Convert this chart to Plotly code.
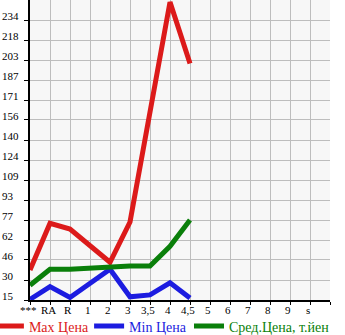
import plotly.graph_objects as go

categories = ["***", "RA", "R", "1", "2", "3", "3,5", "4", "4,5", "5", "6", "7", "8", "9", "s"]
max_price = [38.5, 75, 70.5, 57, 44.5, 76, 160, 248, 200]
min_price = [15.5, 25.5, 17, 28, 39, 17.5, 19, 28.5, 16.5]
avg_price = [26.5, 39, 39, 40, 41, 41.5, 41.5, 57, 77.5]
y_ticks = [15, 30.64, 46.29, 61.93, 77.57, 93.21, 108.86, 124.5, 140.14, 155.79, 171.43, 187.07, 202.71, 218.36, 234]
y_labels = ["15", "30", "46", "62", "77", "93", "109", "124", "140", "156", "171", "187", "203", "218", "234"]

names = ["Max Цена", "Min Цена", "Сред.Цена, т.йен"]
colors = ["#dc1a1a", "#1c1ce0", "#0a7f0a"]
series = [max_price, min_price, avg_price]
legend_ids = ["legend", "legend2", "legend3"]
legend_x = [-0.137, 0.197, 0.53]

fig = go.Figure()
for name, col, vals, lg in zip(names, colors, series, legend_ids):
    fig.add_trace(go.Scatter(
        x=list(range(len(vals))), y=vals, mode="lines",
        line=dict(color=col, width=5),
        name=f"<span style='color:{col}'>{name}</span>",
        legend=lg,
    ))

FONT = "Liberation Serif"
y_range = [15, 234 + (234 - 15) / 14]
annotations = [
    dict(text=lab, x=-0.1, xref="paper", y=v, yref="y", xanchor="left",
         yanchor="middle", yshift=4, showarrow=False,
         font=dict(family=FONT, size=11, color="#000"))
    for v, lab in zip(y_ticks, y_labels)
]
annotations += [
    dict(text=lab, x=i, xref="x", y=-0.033, yref="paper", xanchor="center",
         yanchor="middle", xshift=-2, showarrow=False,
         font=dict(family=FONT, size=11, color="#000"))
    for i, lab in enumerate(categories)
]

legends = {}
for lg, lx in zip(legend_ids, legend_x):
    legends[lg] = dict(orientation="h", x=lx, xanchor="left", y=-0.035, yanchor="top",
                       font=dict(family=FONT, size=14), itemwidth=30,
                       bgcolor="rgba(0,0,0,0)", borderwidth=0, visible=True)

fig.update_layout(
    width=345, height=335,
    margin=dict(l=30, r=15, t=0, b=35, autoexpand=False),
    paper_bgcolor="white", plot_bgcolor="#f7f7f7",
    font=dict(family=FONT, size=11, color="#000"),
    annotations=annotations,
    showlegend=True,
    **legends,
)
fig.update_xaxes(
    range=[0, len(categories)],
    tickmode="array", tickvals=list(range(len(categories) + 1)),
    showticklabels=False,
    showgrid=True, gridcolor="#bdbdbd", gridwidth=1,
    showline=True, linecolor="#000", linewidth=2,
    ticks="outside", ticklen=3, tickcolor="#000",
    zeroline=False, fixedrange=True,
)
fig.update_yaxes(
    range=y_range,
    tickmode="array", tickvals=y_ticks, showticklabels=False,
    showgrid=True, gridcolor="#bdbdbd", gridwidth=1,
    showline=True, linecolor="#000", linewidth=2,
    ticks="outside", ticklen=4, tickcolor="#000",
    zeroline=False, fixedrange=True,
)
fig.write_html("out.html", config={"displayModeBar": False})
